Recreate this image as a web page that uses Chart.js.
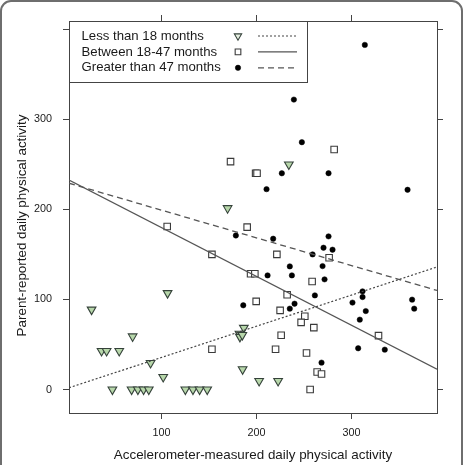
<!DOCTYPE html>
<html><head><meta charset="utf-8">
<script src="https://cdn.jsdelivr.net/npm/chart.js@4.4.0/dist/chart.umd.min.js"></script>
<style>
html,body{margin:0;padding:0;background:#fff;overflow:hidden;}
#wrap{position:relative;width:463px;height:465px;}
#frame{position:absolute;left:0;top:0;width:459px;height:490px;border:2px solid #6e6e6e;border-radius:11px;pointer-events:none;}
canvas{position:absolute;left:0;top:0;}
</style></head><body>
<div id="wrap"><canvas id="c" width="463" height="465"></canvas><div id="frame"></div></div>
<script>
// ---- data ----
const seriesNames = ['Less than 18 months', 'Between 18-47 months', 'Greater than 47 months'];
const xTitle = 'Accelerometer-measured daily physical activity';
const yTitle = 'Parent-reported daily physical activity';

const lessX = [26.3, 106.3, 69.5, 36.8, 42.1, 55.4, 88.4, 101.7, 48.2, 68.4, 75, 81, 86.5, 125, 133, 140, 148,
               234, 169.5, 186.6, 182, 182.5, 185, 185.3, 202.7, 222.7];
const lessY = [88.7, 107, 59, 42.8, 42.8, 42.8, 29.5, 14, 0, 0, 0, 0, 0, 0, 0, 0, 0,
               249.8, 201.3, 68.5, 62, 58.5, 60.5, 22.5, 9.5, 9.5];

const betweenX = [172.6, 199, 200.5, 190.1, 105.9, 153, 221.4, 193.7, 198.2, 258.5, 232.2, 199.6, 224.8,
                  250.8, 246.9, 260.3, 225.9, 153, 220, 252.6, 263.8, 268.4, 256.4, 281.7, 276.4, 328.4];
const betweenY = [253, 240, 240, 180.3, 181, 150, 150, 128.6, 128.6, 120, 105.3, 97.9, 87.9,
                  81.3, 74.6, 68.7, 60.2, 44.7, 44.7, 40.6, 19.5, 17.3, 0, 266.4, 146.3, 59.9];

const greaterX = [314, 239.3, 247.7, 226.6, 210.5, 275.8, 359, 178.2, 217.5, 275.8, 270.5, 280, 259, 235,
                  237.2, 211.6, 269.5, 271.6, 261.4, 186, 240, 235, 311.6, 311.6, 301, 363.8, 366, 315,
                  308.7, 307, 335, 268.4];
const greaterY = [382.5, 321.8, 274.5, 240, 222.4, 240.1, 221.7, 171, 167.4, 170, 157.4, 155.2, 150, 136.7,
                  126.7, 126.7, 137, 122.3, 104.5, 93.5, 95.3, 89.8, 109, 102.7, 96.5, 99.8, 89.8, 87.1,
                  77.6, 45.8, 44.3, 29.9];

// fitted lines (end points read at the plot edges)
const lessLineX = [2.5, 390];      const lessLineY = [2, 136];
const betweenLineX = [2.5, 390];   const betweenLineY = [232.5, 22.5];
const greaterLineX = [2.5, 390];   const greaterLineY = [229, 110];

const xTickLabels = [100, 200, 300];
const yTickLabels = [0, 100, 200, 300];

// ---- helpers ----
const zip = (xs, ys) => xs.map((x, i) => ({x: x, y: ys[i]}));
const FONT = "'Liberation Sans', Arial, sans-serif";
const AXIS = '#444';
const TEXT = '#1a1a1a';

const styles = {
  less:    {pointStyle: 'triangle', rotation: 180, radius: 5, bg: '#b7d7aa', border: '#35423a', bw: 1.1},
  between: {pointStyle: 'rect', rotation: 0, radius: 4.6, bg: '#ffffff', border: '#3a3a3a', bw: 1.1},
  greater: {pointStyle: 'circle', rotation: 0, radius: 2.7, bg: '#000000', border: '#000000', bw: 0.5}
};
const lineStyles = {
  less:    {color: '#444', width: 1.2, dash: [2, 2]},
  between: {color: '#555', width: 1.3, dash: []},
  greater: {color: '#555', width: 1.3, dash: [6, 4]}
};

function pointDs(label, data, st) {
  return {label, data, showLine: false, pointStyle: st.pointStyle, rotation: st.rotation,
          pointRadius: st.radius, pointHoverRadius: st.radius, backgroundColor: st.bg,
          borderColor: st.border, borderWidth: st.bw};
}
function lineDs(label, data, ls) {
  return {label, data, showLine: true, pointRadius: 0, pointHoverRadius: 0, borderColor: ls.color,
          borderWidth: ls.width, borderDash: ls.dash, backgroundColor: 'transparent', fill: false, tension: 0};
}

function drawMarker(ctx, st, x, y) {
  ctx.save();
  ctx.fillStyle = st.bg; ctx.strokeStyle = st.border; ctx.lineWidth = st.bw;
  ctx.beginPath();
  const r = st.radius;
  if (st.pointStyle === 'triangle') {
    let rad = Math.PI;
    ctx.moveTo(x + Math.sin(rad) * r, y - Math.cos(rad) * r);
    rad += 2 * Math.PI / 3; ctx.lineTo(x + Math.sin(rad) * r, y - Math.cos(rad) * r);
    rad += 2 * Math.PI / 3; ctx.lineTo(x + Math.sin(rad) * r, y - Math.cos(rad) * r);
    ctx.closePath();
  } else if (st.pointStyle === 'rect') {
    const s = r * Math.SQRT1_2;
    ctx.rect(x - s, y - s, 2 * s, 2 * s);
  } else {
    ctx.arc(x, y, r, 0, Math.PI * 2);
  }
  ctx.fill(); ctx.stroke();
  ctx.restore();
}

const legendPlugin = {
  id: 'boxLegend',
  afterDraw(chart) {
    const ctx = chart.ctx, a = chart.chartArea;
    const L = Math.round(a.left) + 0.5, T = Math.round(a.top) + 0.5, R = 307.5, B = 82.5;
    ctx.save();
    ctx.fillStyle = '#fff';
    ctx.fillRect(L, T, R - L, B - T);
    ctx.strokeStyle = AXIS; ctx.lineWidth = 1;
    ctx.strokeRect(L, T, R - L, B - T);
    const keys = ['less', 'between', 'greater'];
    ctx.font = '13.2px ' + FONT;
    ctx.textBaseline = 'middle';
    ctx.textAlign = 'left';
    keys.forEach((k, i) => {
      const y = T + 14.5 + i * 15.9;
      ctx.fillStyle = TEXT;
      ctx.fillText(seriesNames[i], L + 12, y);
      const st = Object.assign({}, styles[k]);
      if (k === 'less') { st.radius = 4.2; st.bg = '#e6efe2'; }
      if (k === 'between') st.radius = 4.0;
      drawMarker(ctx, st, 238, y);
      const ls = lineStyles[k];
      ctx.save();
      ctx.strokeStyle = ls.color; ctx.lineWidth = ls.width; ctx.setLineDash(ls.dash);
      ctx.beginPath(); ctx.moveTo(258, y); ctx.lineTo(297, y); ctx.stroke();
      ctx.restore();
    });
    ctx.restore();
  }
};

// y-axis title, centred a little below the panel centre as in the reference
const yTitlePlugin = {
  id: 'yTitle',
  afterDraw(chart) {
    const ctx = chart.ctx, a = chart.chartArea;
    ctx.save();
    ctx.translate(22, (a.top + a.bottom) / 2 + 8.5);
    ctx.rotate(-Math.PI / 2);
    ctx.font = '13.4px ' + FONT;
    ctx.fillStyle = TEXT;
    ctx.textAlign = 'center';
    ctx.textBaseline = 'middle';
    ctx.fillText(yTitle, 0, 0);
    ctx.restore();
  }
};

const gridOpts = {drawOnChartArea: false, drawTicks: true, tickLength: 6, color: AXIS, lineWidth: 1, tickWidth: 1};
const borderOpts = {display: true, color: AXIS, width: 1};
const X_MIN = 2.5, X_MAX = 390, Y_MIN = -26, Y_MAX = 409;

new Chart(document.getElementById('c'), {
  type: 'scatter',
  data: {
    datasets: [
      lineDs(seriesNames[0] + ' fit', zip(lessLineX, lessLineY), lineStyles.less),
      lineDs(seriesNames[1] + ' fit', zip(betweenLineX, betweenLineY), lineStyles.between),
      lineDs(seriesNames[2] + ' fit', zip(greaterLineX, greaterLineY), lineStyles.greater),
      pointDs(seriesNames[1], zip(betweenX, betweenY), styles.between),
      pointDs(seriesNames[0], zip(lessX, lessY), styles.less),
      pointDs(seriesNames[2], zip(greaterX, greaterY), styles.greater)
    ]
  },
  options: {
    responsive: false,
    animation: false,
    events: [],
    layout: {padding: 0},
    plugins: {legend: {display: false}, tooltip: {enabled: false}, title: {display: false}},
    scales: {
      x: {
        type: 'linear', position: 'bottom', min: X_MIN, max: X_MAX,
        afterFit(s) { s.height = 52; },
        ticks: {stepSize: 100, includeBounds: false, padding: 7.2, color: TEXT, maxRotation: 0, autoSkip: false,
                font: {size: 10.8, family: FONT},
                callback: v => xTickLabels.includes(v) ? String(v) : ''},
        grid: gridOpts, border: borderOpts,
        title: {display: true, text: xTitle, color: TEXT,
                font: {size: 13.4, family: FONT}, padding: {top: 0, bottom: 2}}
      },
      x2: {
        type: 'linear', position: 'top', min: X_MIN, max: X_MAX,
        afterFit(s) { s.height = 21; },
        ticks: {stepSize: 100, includeBounds: false, display: false},
        grid: gridOpts, border: borderOpts
      },
      y: {
        type: 'linear', position: 'left', min: Y_MIN, max: Y_MAX,
        afterFit(s) { s.width = 69; },
        ticks: {stepSize: 100, includeBounds: false, padding: 11, color: TEXT, autoSkip: false,
                font: {size: 10.8, family: FONT},
                callback: v => yTickLabels.includes(v) ? String(v) : ''},
        grid: gridOpts, border: borderOpts,
        title: {display: false, text: yTitle}
      },
      y2: {
        type: 'linear', position: 'right', min: Y_MIN, max: Y_MAX,
        afterFit(s) { s.width = 26; },
        ticks: {stepSize: 100, includeBounds: false, display: false},
        grid: gridOpts, border: borderOpts
      }
    }
  },
  plugins: [legendPlugin, yTitlePlugin]
});
</script>
</body></html>
